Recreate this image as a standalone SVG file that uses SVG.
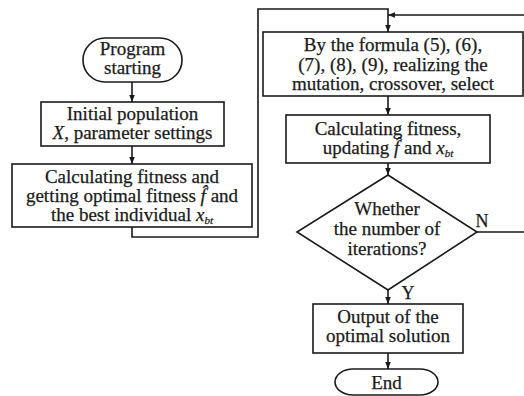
<svg xmlns="http://www.w3.org/2000/svg" width="524" height="396" viewBox="0 0 524 396">
<defs>
<marker id="ah" viewBox="0 0 10 10" refX="10" refY="5" markerWidth="7" markerHeight="7" markerUnits="userSpaceOnUse" orient="auto">
<path d="M0,1 L10,5 L0,9 Z" fill="#1a1a1a"/>
</marker>
<style>
.shape{fill:#fff;stroke:#1a1a1a;stroke-width:1.6}
.t{font-family:"Liberation Serif","Times New Roman",serif;font-size:19px;fill:#1a1a1a;stroke:#1a1a1a;stroke-width:0.25;text-anchor:middle}
.i{font-style:italic}
.sub{font-style:italic;font-size:11px}
.c{fill:none;stroke:#1a1a1a;stroke-width:1.6}
</style>
</defs>
<rect width="524" height="396" fill="#fff"/>
<g id="connectors">
<line class="c" x1="132" y1="82" x2="132" y2="102" marker-end="url(#ah)"/>
<line class="c" x1="132" y1="146" x2="132" y2="164" marker-end="url(#ah)"/>
<polyline class="c" points="132,227 132,237 258,237 258,9 388,9 388,32" marker-end="url(#ah)"/>
<line class="c" x1="388" y1="96" x2="388" y2="115" marker-end="url(#ah)"/>
<line class="c" x1="388" y1="163" x2="388" y2="175" marker-end="url(#ah)"/>
<polyline class="c" points="477,232 527,232 527,15 388,15" marker-end="url(#ah)"/>
<line class="c" x1="388" y1="290" x2="388" y2="304" marker-end="url(#ah)"/>
<line class="c" x1="388" y1="353" x2="388" y2="369" marker-end="url(#ah)"/>
<text class="t" x="482" y="227" style="font-size:18px">N</text>
<text class="t" x="408" y="299" style="font-size:18px">Y</text>
</g>
<g id="start">
<rect class="shape" x="83" y="38" width="99" height="44" rx="22" ry="22"/>
<text class="t" x="132.5" y="55">Program</text>
<text class="t" x="132.5" y="74">starting</text>
</g>
<g id="init">
<rect class="shape" x="41" y="102" width="183" height="44"/>
<text class="t" x="132.5" y="120">Initial population</text>
<text class="t" x="132.5" y="139"><tspan class="i">X</tspan>, parameter settings</text>
</g>
<g id="fitness1">
<rect class="shape" x="12" y="164" width="240" height="63"/>
<text class="t" x="132" y="183">Calculating fitness and</text>
<text class="t" x="132" y="202">getting optimal fitness <tspan class="i">f̂</tspan> and</text>
<text class="t" x="132" y="221">the best individual <tspan class="i">x</tspan><tspan class="sub" dy="3">bt</tspan></text>
</g>
<g id="mutation">
<rect class="shape" x="263" y="32" width="260" height="64"/>
<text class="t" x="393" y="51">By the formula (5), (6),</text>
<text class="t" x="393" y="71">(7), (8), (9), realizing the</text>
<text class="t" x="393" y="90">mutation, crossover, select</text>
</g>
<g id="fitness2">
<rect class="shape" x="286" y="115" width="204" height="48"/>
<text class="t" x="388" y="135">Calculating fitness,</text>
<text class="t" x="388" y="154">updating <tspan class="i">f̂</tspan> and <tspan class="i">x</tspan><tspan class="sub" dy="3">bt</tspan></text>
</g>
<g id="decision">
<polygon class="shape" points="388,175 477,232 388,290 297,232"/>
<text class="t" x="387" y="215">Whether</text>
<text class="t" x="387" y="235">the number of</text>
<text class="t" x="387" y="255">iterations?</text>
</g>
<g id="output">
<rect class="shape" x="313" y="304" width="150" height="49"/>
<text class="t" x="388" y="323">Output of the</text>
<text class="t" x="388" y="342">optimal solution</text>
</g>
<g id="end">
<rect class="shape" x="335" y="369" width="103" height="26" rx="18" ry="13"/>
<text class="t" x="386.5" y="389">End</text>
</g>
</svg>
